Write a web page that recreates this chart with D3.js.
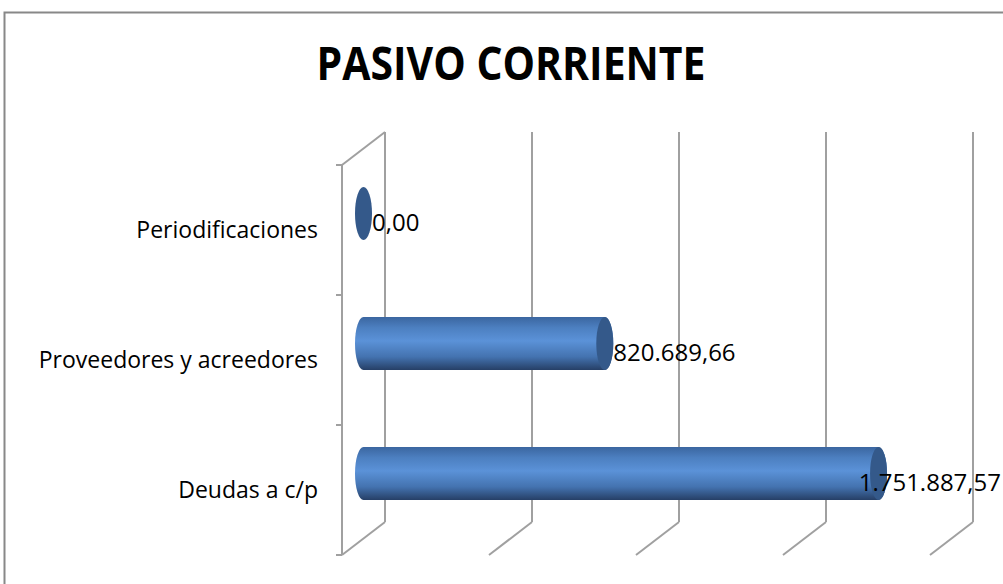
<!DOCTYPE html>
<meta charset='utf-8'>
<head>
    <title>Pasivo corriente</title>
    <script src='https://cdn.jsdelivr.net/npm/d3@7/dist/d3.min.js'></script>
</head>

<style>
    body { margin: 0; background: #fff; }
    text { font-family: 'Open Sans', sans-serif; fill: #000; }
    .grid { stroke: #a0a0a0; stroke-width: 2px; fill: none; }
</style>

<svg></svg>

<script>

    // data
    var categories = ['Periodificaciones', 'Proveedores y acreedores', 'Deudas a c/p'];
    var values = [0, 820689.66, 1751887.57];
    var xTicks = [0, 500000, 1000000, 1500000, 2000000];
    var title = 'PASIVO CORRIENTE';

    var vWidth = 1003;
    var vHeight = 584;

    // back wall of the 3d box, and depth offset towards the viewer
    var back = {left: 385, right: 973, top: 132, bottom: 522};
    var depth = {dx: -43, dy: 33};

    var svg = d3.select('svg').attr('width', vWidth).attr('height', vHeight);

    var es = d3.formatLocale({decimal: ',', thousands: '.', grouping: [3], currency: ['', '€']});
    var fmt = es.format(',.2f');

    // gradient for the cylinder body
    var defs = svg.append('defs');
    var grad = defs.append('linearGradient').attr('id', 'cyl')
        .attr('x1', 0).attr('y1', 0).attr('x2', 0).attr('y2', 1);
    grad.append('stop').attr('offset', '0%').attr('stop-color', '#3b66a0');
    grad.append('stop').attr('offset', '20%').attr('stop-color', '#4c7fc0');
    grad.append('stop').attr('offset', '45%').attr('stop-color', '#5b92d8');
    grad.append('stop').attr('offset', '75%').attr('stop-color', '#4473b0');
    grad.append('stop').attr('offset', '100%').attr('stop-color', '#263f66');

    // chart frame
    svg.append('rect')
        .attr('x', 4.5).attr('y', 12.5).attr('width', 1010).attr('height', 600)
        .attr('fill', '#fff').attr('stroke', '#888').attr('stroke-width', 2);

    // title (squeezed a little, like Calibri bold)
    svg.append('text')
        .attr('transform', 'translate(511,80) scale(0.89,1)')
        .attr('text-anchor', 'middle')
        .style('font-size', '46px').style('font-weight', 'bold')
        .text(title);

    // scales
    var x = d3.scaleLinear().domain([0, 2000000]).range([back.left, back.right]);
    var y = d3.scaleBand().domain(categories).range([back.top, back.bottom]);

    var g = svg.append('g');

    // back wall verticals and floor diagonals
    g.selectAll('line.wall').data(xTicks).enter().append('line')
        .attr('class', 'grid')
        .attr('x1', function (d) { return x(d); }).attr('x2', function (d) { return x(d); })
        .attr('y1', back.top).attr('y2', back.bottom);
    g.selectAll('line.floor').data(xTicks).enter().append('line')
        .attr('class', 'grid')
        .attr('x1', function (d) { return x(d); })
        .attr('y1', back.bottom)
        .attr('x2', function (d) { return x(d) + depth.dx; })
        .attr('y2', back.bottom + depth.dy);

    // left side wall (front edge + top diagonal)
    var fx = x(0) + depth.dx;
    g.append('line').attr('class', 'grid')
        .attr('x1', fx).attr('x2', fx)
        .attr('y1', back.top + depth.dy).attr('y2', back.bottom + depth.dy);
    g.append('line').attr('class', 'grid')
        .attr('x1', fx).attr('y1', back.top + depth.dy)
        .attr('x2', x(0)).attr('y2', back.top);

    // category ticks on the front edge
    var tickYs = categories.map(function (c) { return y(c); }).concat([back.bottom]);
    g.selectAll('line.tick').data(tickYs).enter().append('line')
        .attr('class', 'grid')
        .attr('x1', fx - 6).attr('x2', fx)
        .attr('y1', function (d) { return d + depth.dy; })
        .attr('y2', function (d) { return d + depth.dy; });

    // category labels
    g.selectAll('text.cat').data(categories).enter().append('text')
        .attr('text-anchor', 'end')
        .attr('x', 318)
        .attr('y', function (d) { return y(d) + y.bandwidth() / 2 + depth.dy + 8; })
        .style('font-size', '23px')
        .text(function (d) { return d; });

    // cylinders, sitting halfway into the depth
    var r = 26.5, rx = 8.5;
    var ox = depth.dx / 2, oy = depth.dy / 2;
    var bars = categories.map(function (c, i) {
        return {
            cat: c, v: values[i],
            x0: x(0) + ox,
            x1: x(values[i]) + ox,
            cy: y(c) + y.bandwidth() / 2 + oy
        };
    });

    var bar = g.selectAll('g.bar').data(bars).enter().append('g');
    bar.filter(function (d) { return d.v > 0; }).append('path')
        .attr('fill', 'url(#cyl)')
        .attr('d', function (d) {
            return 'M' + d.x0 + ',' + (d.cy - r) +
                'L' + d.x1 + ',' + (d.cy - r) +
                'A' + rx + ',' + r + ' 0 0 1 ' + d.x1 + ',' + (d.cy + r) +
                'L' + d.x0 + ',' + (d.cy + r) +
                'A' + rx + ',' + r + ' 0 0 1 ' + d.x0 + ',' + (d.cy - r) + 'Z';
        });
    bar.append('ellipse')
        .attr('cx', function (d) { return d.x1; })
        .attr('cy', function (d) { return d.cy; })
        .attr('rx', rx).attr('ry', r)
        .attr('fill', '#34598a');

    // value labels
    var labelRight = 1001;
    bar.append('text')
        .style('font-size', '24px')
        .attr('y', function (d) { return d.cy + 17; })
        .text(function (d) { return fmt(d.v); })
        .attr('x', function (d) {
            // keep the label inside the visible area
            var w = this.getComputedTextLength();
            return Math.min(d.x1 + rx, labelRight - w);
        });

</script>
